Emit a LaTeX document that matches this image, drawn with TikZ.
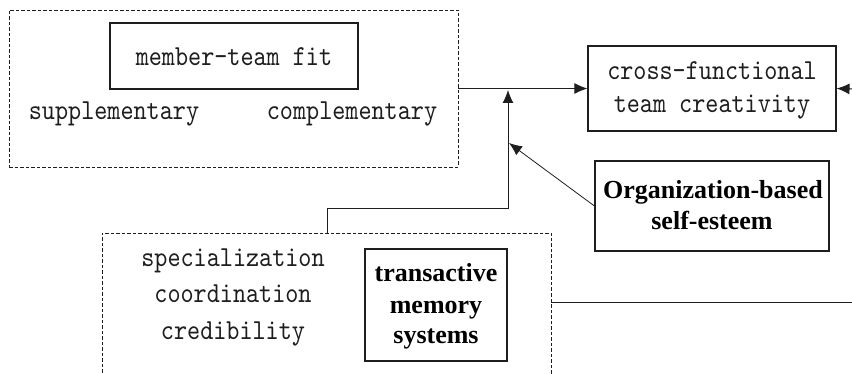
\documentclass[tikz,border=0pt]{standalone}
\usepackage{fontspec}
\setmainfont{Liberation Serif}
\newfontfamily\monofont{lmmono10-regular}[Extension=.otf, FakeStretch=0.86]
\usetikzlibrary{arrows.meta}

\definecolor{ink}{HTML}{1E1E1E}

\begin{document}
\begin{tikzpicture}[x=1pt,y=-1pt,
  plain/.style={font=\monofont\fontsize{29}{32}\selectfont, inner sep=0pt, anchor=base, text=ink},
  boldtxt/.style={font=\bfseries\fontsize{26}{31}\selectfont, inner sep=0pt, anchor=base},
  solidbox/.style={draw=ink, line width=1.1pt, inner sep=0pt},
  groupbox/.style={draw=ink, line width=0.8pt, dash pattern=on 3.5pt off 2pt, inner sep=0pt},
  conn/.style={draw=ink, line width=1pt, -{Latex[length=13pt,width=11pt]}},
  link/.style={draw=ink, line width=1pt},
]
\useasboundingbox (0,0) rectangle (852,374);
\clip (0,0) rectangle (852,374);

% member-team fit group
\node[groupbox, minimum width=449pt, minimum height=157pt] (fitgroup) at (233.5,88.5) {};
\node[solidbox, minimum width=248pt, minimum height=66pt] (fit) at (234,56) {};
\node[plain] (fittxt) at (234,66) {member-team fit};
\node[plain] (supp) at (114,120) {supplementary};
\node[plain] (comp) at (352,120) {complementary};

% outcome
\node[solidbox, minimum width=248pt, minimum height=85pt] (crea) at (712,88.5) {};
\node[plain] (crea1) at (712,80) {cross-functional};
\node[plain] (crea2) at (712,113) {team creativity};

% moderator
\node[solidbox, minimum width=234pt, minimum height=90pt] (obse) at (712,206) {};
\node[boldtxt] (obse1) at (713,199) {Organization-based};
\node[boldtxt] (obse2) at (712,230) {self-esteem};

% transactive memory systems group
\node[groupbox, minimum width=449pt, minimum height=170pt] (tmsgroup) at (326.5,318) {};
\node[plain] (spec) at (233,267) {specialization};
\node[plain] (coor) at (233,303) {coordination};
\node[plain] (cred) at (233,339) {credibility};
\node[solidbox, minimum width=142pt, minimum height=112pt] (tms) at (436,305) {};
\node[boldtxt] (tms1) at (436,282) {transactive};
\node[boldtxt] (tms2) at (436,313) {memory};
\node[boldtxt] (tms3) at (436,344) {systems};

% connectors
\coordinate (rightin) at (852,89);
\coordinate (rightout) at (852,303);
\coordinate (joint) at (508,209);
\coordinate (tip) at (508,90);
\coordinate (mod) at (509,143);

\draw[conn] (fitgroup.east) -- (crea.west);
\draw[conn] (rightin) -- (crea.east);
\draw[link] (tmsgroup.north -| 327,0) |- (joint);
\draw[conn] (joint) -- (tip);
\draw[conn, line width=0.8pt] (obse.west) -- (mod);
\draw[link] (tmsgroup.east |- rightout) -- (rightout);
\end{tikzpicture}
\end{document}
